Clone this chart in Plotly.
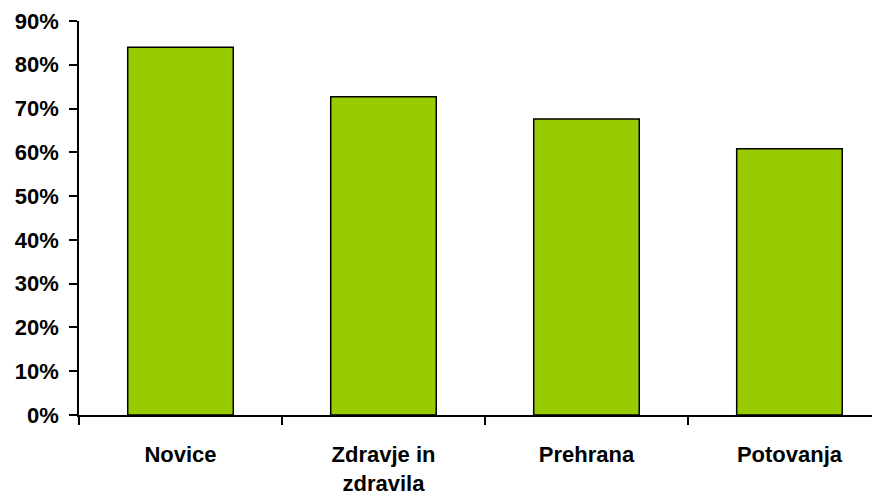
import plotly.graph_objects as go

categories = ["Novice", "Zdravje in<br>zdravila", "Prehrana", "Potovanja"]
values = [84.0, 72.7, 67.6, 60.8]
y_ticks = [0, 10, 20, 30, 40, 50, 60, 70, 80, 90]
y_tick_labels = [f"{v}%" for v in y_ticks]

fig = go.Figure(
    go.Bar(
        x=categories,
        y=values,
        marker=dict(color="#99CC00", line=dict(color="#000000", width=1.5)),
        width=0.52,
    )
)

font_main = dict(family="Liberation Sans, Arial, sans-serif", size=22, color="#000000", weight="bold")

# page body has an 8px margin, so the figure is sized to fit the 880x497 window
fig.update_layout(
    width=872,
    height=489,
    margin=dict(l=71, r=0, t=13, b=82, autoexpand=False),
    paper_bgcolor="white",
    plot_bgcolor="white",
    showlegend=False,
    font=font_main,
)

fig.update_xaxes(
    range=[-0.5, 3.446],
    automargin=False,
    showline=True,
    linecolor="#000000",
    linewidth=1.5,
    ticks="outside",
    tickson="boundaries",
    ticklen=8,
    tickwidth=1.5,
    tickcolor="#000000",
    tickfont=font_main,
    ticklabelstandoff=19,
    showgrid=False,
    zeroline=False,
)

fig.update_yaxes(
    range=[0, 90],
    automargin=False,
    tickvals=y_ticks,
    ticktext=y_tick_labels,
    showline=True,
    linecolor="#000000",
    linewidth=1.5,
    ticks="outside",
    ticklen=8,
    tickwidth=1.5,
    tickcolor="#000000",
    tickfont=font_main,
    ticklabelstandoff=6,
    showgrid=False,
    zeroline=False,
)

fig.write_html("out.html")
